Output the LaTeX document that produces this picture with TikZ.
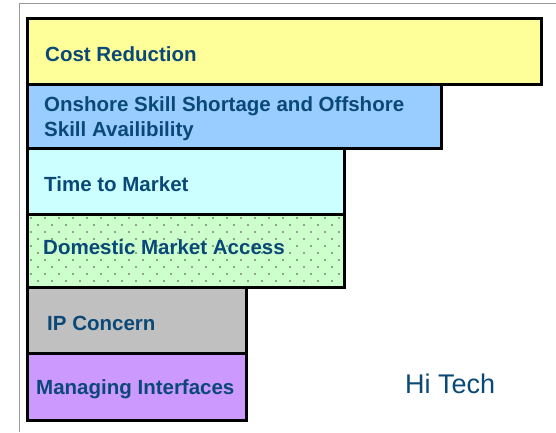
\documentclass[tikz,border=0pt]{standalone}
\usepackage{fontspec}
\setmainfont{Liberation Sans}
\usepackage{xcolor}
\definecolor{colorText}{RGB}{10,72,120}
\definecolor{colorCost}{HTML}{FFFF99}
\definecolor{colorSkill}{HTML}{99CCFF}
\definecolor{colorTime}{HTML}{CCFFFF}
\definecolor{colorMarket}{HTML}{CCFFCC}
\definecolor{colorIP}{HTML}{C0C0C0}
\definecolor{colorIface}{HTML}{CC99FF}
\usetikzlibrary{positioning}
\tikzset{bar/.style={draw=black, line width=3pt, outer sep=0pt, inner sep=0pt, anchor=north west}}

\begin{document}
\begin{tikzpicture}[x=1pt, y=-1pt, lbl/.style={inner sep=0pt, align=left, text=colorText, yshift=-3pt, font=\bfseries\fontsize{20.5}{25}\selectfont}]
\useasboundingbox (0,0) rectangle (556,432);
\draw[gray!80, line width=0.8pt] (19,432) -- (19,3) -- (556,3);
\node[bar, fill=colorCost, minimum width=514pt, minimum height=66pt] (cost) at (27,18) {};
\node[bar, fill=colorSkill, minimum width=414pt, minimum height=64pt, below=0pt of cost.south west, anchor=north west] (skill) {};
\node[bar, fill=colorTime, minimum width=317pt, minimum height=66pt, below=0pt of skill.south west, anchor=north west] (time) {};
\node[bar, fill=colorMarket, minimum width=317pt, minimum height=73pt, below=0pt of time.south west, anchor=north west] (market) {};
\begin{scope}
\clip ([xshift=1.5pt, yshift=-1.5pt]market.north west) rectangle ([xshift=-1.5pt, yshift=1.5pt]market.south east);
\foreach \r in {0,...,9}
  \foreach \c in {0,...,22}
    \fill[black!70] ({31+14*\c+7*mod(\r,2)}, {218+7*\r}) circle (0.85pt);
\end{scope}
\node[bar, fill=colorIP, minimum width=219pt, minimum height=66pt, below=0pt of market.south west, anchor=north west] (ip) {};
\node[bar, fill=colorIface, minimum width=219pt, minimum height=67pt, below=0pt of ip.south west, anchor=north west] (iface) {};
% labels
\node[lbl, right=18pt of cost.west] (costtxt) {Cost Reduction};
\node[lbl, right=17pt of skill.west] (skilltxt) {Onshore Skill Shortage and Offshore\\Skill Availibility};
\node[lbl, right=17pt of time.west] (timetxt) {Time to Market};
\node[lbl, right=16pt of market.west, yshift=6pt] (markettxt) {Domestic Market Access};
\node[lbl, right=20pt of ip.west] (iptxt) {IP Concern};
\node[lbl, right=9pt of iface.west] (ifacetxt) {Managing Interfaces};
\node[inner sep=0pt, anchor=base west, text=colorText, font=\fontsize{27}{30}\selectfont] (sector) at (405,393) {Hi Tech};
\end{tikzpicture}
\end{document}
